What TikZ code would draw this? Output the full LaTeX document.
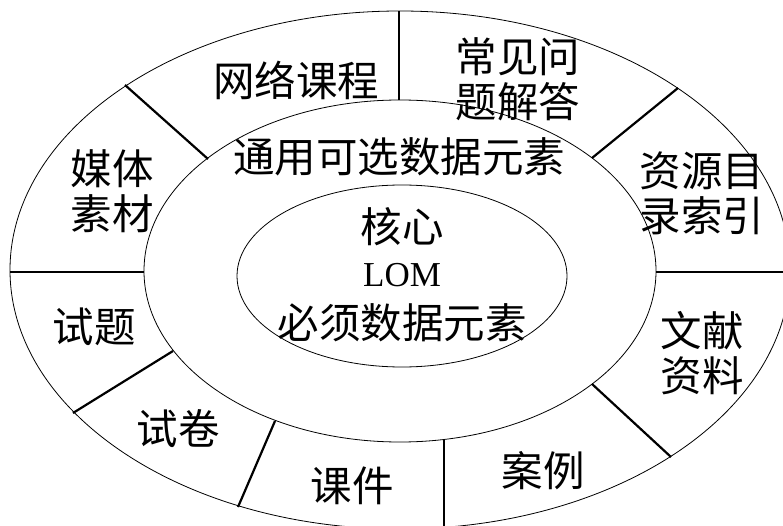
\documentclass[tikz,border=0pt]{standalone}
\usepackage{fontspec}
\newfontfamily\cjk{Noto Sans CJK SC}
\newfontfamily\lomfont{Liberation Serif}
\begin{document}
\begin{tikzpicture}[x=1pt,y=-1pt,
  lbl/.style={font=\cjk\fontsize{41.5}{45}\selectfont, align=center, inner sep=0pt},
  ring/.style={draw=black, line width=0.8pt},
  divider/.style={draw=black, line width=2.2pt}]
\useasboundingbox (0,0) rectangle (783,526);
\begin{scope}
\clip (0,0) rectangle (783,526);
% rings
\draw[ring] (400,270) ellipse [x radius=390, y radius=259];
\draw[ring] (400,271) ellipse [x radius=256, y radius=171];
\draw[ring] (402,276) ellipse [x radius=165, y radius=91];
% dividers
\coordinate (d1o) at (399,11);  \coordinate (d1i) at (399,100);
\coordinate (d2o) at (678,88);  \coordinate (d2i) at (592,158);
\coordinate (d3o) at (790,272); \coordinate (d3i) at (656,272);
\coordinate (d4o) at (671,457); \coordinate (d4i) at (592,384);
\coordinate (d5o) at (444,530); \coordinate (d5i) at (444,440);
\coordinate (d6o) at (238,507); \coordinate (d6i) at (275,421);
\coordinate (d7o) at (73,413);  \coordinate (d7i) at (173,351);
\coordinate (d8o) at (10,272);  \coordinate (d8i) at (144,272);
\coordinate (d9o) at (125,85);  \coordinate (d9i) at (208,159);
\foreach \k in {1,...,9} \draw[divider] (d\k o) -- (d\k i);
\end{scope}
% labels
\node[lbl] (wl) at (296,80) {网络课程};
\node[lbl] (cj) at (518,79) {常见问\\题解答};
\node[lbl] (zy) at (702,193) {资源目\\录索引};
\node[lbl] (wx) at (702,353) {文献\\资料};
\node[lbl] (al) at (543,471) {案例};
\node[lbl] (kj) at (352,486) {课件};
\node[lbl] (sj) at (178,429) {试卷};
\node[lbl] (st) at (94,327) {试题};
\node[lbl] (mt) at (112,191) {媒体\\素材};
\node[lbl] (ty) at (399,157) {通用可选数据元素};
\node[lbl] (hx) at (402,227) {核心};
\node[font=\lomfont\fontsize{35}{40}\selectfont, inner sep=0pt] (lom) at (402,275) {LOM};
\node[lbl] (bx) at (402,323) {必须数据元素};
\end{tikzpicture}
\end{document}
